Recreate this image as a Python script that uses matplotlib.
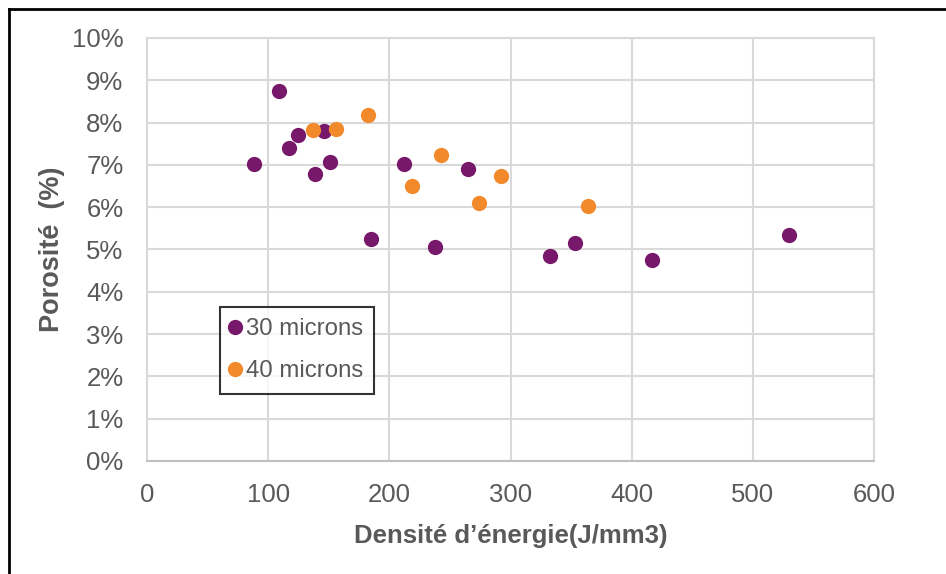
import matplotlib
matplotlib.use("Agg")
import matplotlib.pyplot as plt
from matplotlib.lines import Line2D
from matplotlib.ticker import FuncFormatter

plt.rcParams['font.family'] = ['Liberation Sans', 'DejaVu Sans']

# Energy density (J/mm3) and porosity (%) for each layer thickness
x_30 = [109, 88, 117, 125, 146, 139, 151, 212, 265, 185, 238, 333, 353, 417, 530]
y_30 = [8.74, 7.03, 7.39, 7.70, 7.81, 6.78, 7.08, 7.02, 6.91, 5.25, 5.07, 4.84, 5.16, 4.74, 5.35]

x_40 = [137, 156, 182, 243, 219, 292, 274, 364]
y_40 = [7.82, 7.85, 8.18, 7.23, 6.50, 6.73, 6.11, 6.02]

x_ticks = [0, 100, 200, 300, 400, 500, 600]
y_ticks = [0, 1, 2, 3, 4, 5, 6, 7, 8, 9, 10]

label_30 = "30 microns"
label_40 = "40 microns"

W, H = 946, 574
fig = plt.figure(figsize=(W / 100, H / 100), dpi=100)
ax = fig.add_axes([147 / W, 1 - 461 / H, (874 - 147) / W, (461 - 38) / H])

purple = "#78186A"
orange = "#F28A2C"
grey_text = "#595959"
grid_c = "#D9D9D9"

ax.plot(x_30, y_30, 'o', color=purple, markersize=11, markeredgewidth=0, label=label_30, zorder=3)
ax.plot(x_40, y_40, 'o', color=orange, markersize=11, markeredgewidth=0, label=label_40, zorder=3)

ax.set_xlim(0, 600)
ax.set_ylim(0, 10)
ax.set_xticks(x_ticks)
ax.set_yticks(y_ticks)
ax.yaxis.set_major_formatter(FuncFormatter(lambda v, p: f"{v:.0f}%"))
ax.grid(True, color=grid_c, linewidth=1.5, zorder=0)
ax.set_axisbelow(True)
for side in ['left', 'right', 'top']:
    ax.spines[side].set_color(grid_c)
    ax.spines[side].set_linewidth(1.5)
ax.spines['bottom'].set_color("#BFBFBF")
ax.spines['bottom'].set_linewidth(1.5)
ax.tick_params(axis='both', length=0, labelsize=18.5, labelcolor=grey_text)
ax.tick_params(axis='y', pad=17)
ax.tick_params(axis='x', pad=16)

ax.set_xlabel("Densité d’énergie(J/mm3)", fontsize=18.5, fontweight='bold', color=grey_text, labelpad=12)
ax.set_ylabel("Porosité  (%)", fontsize=19.5, fontweight='bold', color=grey_text, labelpad=5)

leg = ax.legend(loc='upper left', bbox_to_anchor=(220 / W, 1 - 307 / H), bbox_transform=fig.transFigure,
                borderaxespad=0, fontsize=17.3, frameon=True, fancybox=False, handlelength=0.3,
                handletextpad=0.3, labelspacing=0.84, borderpad=0.47, labelcolor=grey_text)
leg.get_frame().set_edgecolor("black")
leg.get_frame().set_linewidth(1.5)

# outer frame (left and top edges)
fig.add_artist(Line2D([9 / W, 9 / W], [0, 1 - 9 / H], transform=fig.transFigure, color='black', linewidth=2))
fig.add_artist(Line2D([9 / W, 1], [1 - 9 / H, 1 - 9 / H], transform=fig.transFigure, color='black', linewidth=2))

fig.savefig("out.png", dpi=100, facecolor='white')
